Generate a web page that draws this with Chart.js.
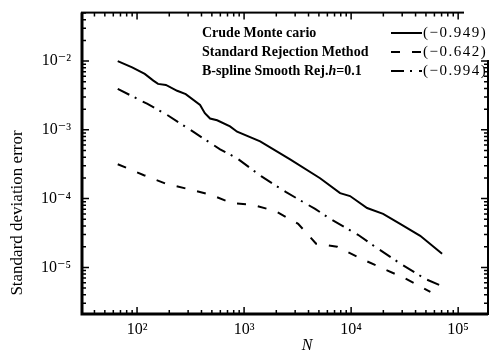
<!DOCTYPE html>
<html>
<head>
<meta charset="utf-8">
<script src="https://cdn.jsdelivr.net/npm/chart.js@4"></script>
<style>
  body { margin: 0; background: #fff; }
  canvas { display: block; }
</style>
</head>
<body>
<canvas id="myChart" width="492" height="354"></canvas>

<script>
// series (N, standard deviation error)
const mcN   = [66, 90, 118, 142, 157, 186, 237, 285, 388, 430, 481, 560, 739, 861, 1413, 2692, 5130, 7890, 9770, 14100, 19900, 28700, 44200, 70800];
const mcErr = [1.0e-2, 8.1e-3, 6.5e-3, 5.2e-3, 4.66e-3, 4.5e-3, 3.7e-3, 3.3e-3, 2.3e-3, 1.75e-3, 1.46e-3, 1.38e-3, 1.12e-3, 9.4e-4, 6.8e-4, 3.72e-4, 1.98e-4, 1.2e-4, 1.09e-4, 7.3e-5, 6.0e-5, 4.3e-5, 2.88e-5, 1.58e-5];

const srN   = [66, 81, 116, 190, 300, 492, 773, 1214, 1950, 3200, 4710, 7400, 12400, 19900, 32000, 55000];
const srErr = [3.16e-4, 2.77e-4, 2.19e-4, 1.63e-4, 1.38e-4, 1.13e-4, 8.6e-5, 8.1e-5, 6.6e-5, 4.3e-5, 2.21e-5, 2.0e-5, 1.34e-5, 9.6e-6, 6.9e-6, 4.4e-6];

const bsN   = [66, 124, 190, 334, 597, 861, 1443, 2470, 4610, 6370, 11600, 15700, 28700, 50200, 67900];
const bsErr = [3.94e-3, 2.4e-3, 1.66e-3, 9.4e-4, 5.2e-4, 3.86e-4, 2.12e-4, 1.24e-4, 7.08e-5, 5.08e-5, 2.98e-5, 2.14e-5, 1.14e-5, 6.7e-6, 5.5e-6];

const labels = ['Crude Monte cario', 'Standard Rejection Method', 'B-spline Smooth Rej.h=0.1'];
const slopes = ['(\u22120.949)', '(\u22120.642)', '(\u22120.994)'];

const xDecades = [10, 100, 1000, 10000, 100000];
const yDecades = [1e-6, 1e-5, 1e-4, 1e-3, 1e-2];
</script>

<script>
const pts = (xs, ys) => xs.map((v, i) => ({x: v, y: ys[i]}));

const SUP = {'-': '\u207B', '0': '\u2070', '1': '\u00B9', '2': '\u00B2', '3': '\u00B3',
             '4': '\u2074', '5': '\u2075', '6': '\u2076', '7': '\u2077', '8': '\u2078', '9': '\u2079'};
function powLabel(v) {
  const e = Math.round(Math.log10(v));
  if (Math.abs(v / Math.pow(10, e) - 1) > 1e-6) return '';
  return '10' + String(e).split('').map(c => SUP[c]).join('');
}

function logTicks(decades, min, max) {
  const out = [];
  decades.forEach(d => {
    for (let k = 1; k < 10; k++) {
      const v = k * d;
      if (v >= min && v <= max) out.push({value: v, major: k === 1});
    }
  });
  return out;
}

const serif = '"Liberation Serif", "DejaVu Serif", serif';

const data = {
  datasets: [
    {
      label: labels[0],
      data: pts(mcN, mcErr),
      borderColor: '#000',
      borderWidth: 2,
      borderDash: [],
    },
    {
      label: labels[1],
      data: pts(srN, srErr),
      borderColor: '#000',
      borderWidth: 2,
      borderDash: [9, 12],
    },
    {
      label: labels[2],
      data: pts(bsN, bsErr),
      borderColor: '#000',
      borderWidth: 2,
      borderDash: [13, 6, 2, 7],
    }
  ]
};

// frame, inward ticks, legend and axis titles
const decor = {
  id: 'decor',
  afterDraw(chart) {
    const {ctx, chartArea: a, scales: {x, y}} = chart;
    ctx.save();
    ctx.strokeStyle = '#000';
    ctx.fillStyle = '#000';

    ctx.lineWidth = 1.5;
    x.ticks.forEach(t => {
      const px = x.getPixelForValue(t.value);
      const len = t.major ? 7 : 4;
      ctx.beginPath();
      ctx.moveTo(px, a.bottom); ctx.lineTo(px, a.bottom - len);
      ctx.moveTo(px, a.top); ctx.lineTo(px, a.top + len);
      ctx.stroke();
    });
    y.ticks.forEach(t => {
      const py = y.getPixelForValue(t.value);
      const len = t.major ? 7 : 4;
      ctx.beginPath();
      ctx.moveTo(a.left, py); ctx.lineTo(a.left + len, py);
      ctx.moveTo(a.right, py); ctx.lineTo(a.right - len, py);
      ctx.stroke();
    });

    ctx.lineWidth = 2;
    ctx.strokeRect(a.left, a.top, a.right - a.left, a.bottom - a.top);
    ctx.lineWidth = 3;
    ctx.beginPath();
    ctx.moveTo(a.left, a.top); ctx.lineTo(a.left, a.bottom); ctx.lineTo(a.right, a.bottom);
    ctx.stroke();

    // the legend box hides the frame corner in the original
    ctx.fillStyle = '#fff';
    ctx.fillRect(464, 0, 28, 60);
    ctx.fillStyle = '#000';

    // legend
    const rows = [33, 52, 71];
    const fs = '14px ' + serif;
    ctx.textBaseline = 'middle';
    chart.data.datasets.forEach((ds, i) => {
      const yy = rows[i];
      let xx = 202;
      if (i === 2) {
        const parts = [['B-spline Smooth Rej.', 'bold'], ['h', 'italic bold'], ['=0.1', 'bold']];
        parts.forEach(([s, st]) => {
          ctx.font = st + ' ' + fs;
          ctx.fillText(s, xx, yy);
          xx += ctx.measureText(s).width;
        });
      } else {
        ctx.font = 'bold ' + fs;
        ctx.fillText(ds.label, xx, yy);
      }
      ctx.beginPath();
      ctx.lineWidth = 2;
      ctx.setLineDash(ds.borderDash || []);
      ctx.moveTo(391, yy); ctx.lineTo(422, yy);
      ctx.stroke();
      ctx.setLineDash([]);
      ctx.font = '15px ' + serif;
      ctx.letterSpacing = '1.5px';
      ctx.fillText(slopes[i], 423, yy);
      ctx.letterSpacing = '0px';
    });

    // axis titles
    ctx.font = '17px ' + serif;
    ctx.textAlign = 'center';
    ctx.save();
    ctx.translate(18, 213);
    ctx.rotate(-Math.PI / 2);
    ctx.fillText('Standard deviation error', 0, 0);
    ctx.restore();
    ctx.font = 'italic 16px ' + serif;
    ctx.fillText('N', 307, 346);
    ctx.restore();
  }
};

const config = {
  type: 'line',
  data: data,
  options: {
    responsive: false,
    animation: false,
    layout: { padding: { left: 0, top: 5, right: 4, bottom: 0 } },
    elements: { point: { radius: 0 }, line: { tension: 0 } },
    plugins: {
      legend: { display: false },
      tooltip: { enabled: false }
    },
    scales: {
      x: {
        type: 'logarithmic',
        min: 30.6,
        max: 1.9e5,
        grid: { display: false },
        border: { display: false },
        afterBuildTicks: s => { s.ticks = logTicks(xDecades, s.min, s.max); },
        afterFit: s => { s.height = 40; },
        ticks: {
          autoSkip: false,
          maxRotation: 0,
          padding: -2,
          color: '#000',
          font: { family: serif, size: 16 },
          callback: v => powLabel(v)
        }
      },
      y: {
        type: 'logarithmic',
        min: 2.1e-6,
        max: 5.07e-2,
        grid: { display: false },
        border: { display: false },
        afterBuildTicks: s => { s.ticks = logTicks(yDecades, s.min, s.max); },
        afterFit: s => { s.width = 82; },
        ticks: {
          autoSkip: false,
          padding: 3,
          color: '#000',
          font: { family: serif, size: 16 },
          callback: v => powLabel(v)
        }
      }
    }
  },
  plugins: [decor]
};

var myChart = new Chart(document.getElementById('myChart'), config);
</script>
</body>
</html>
